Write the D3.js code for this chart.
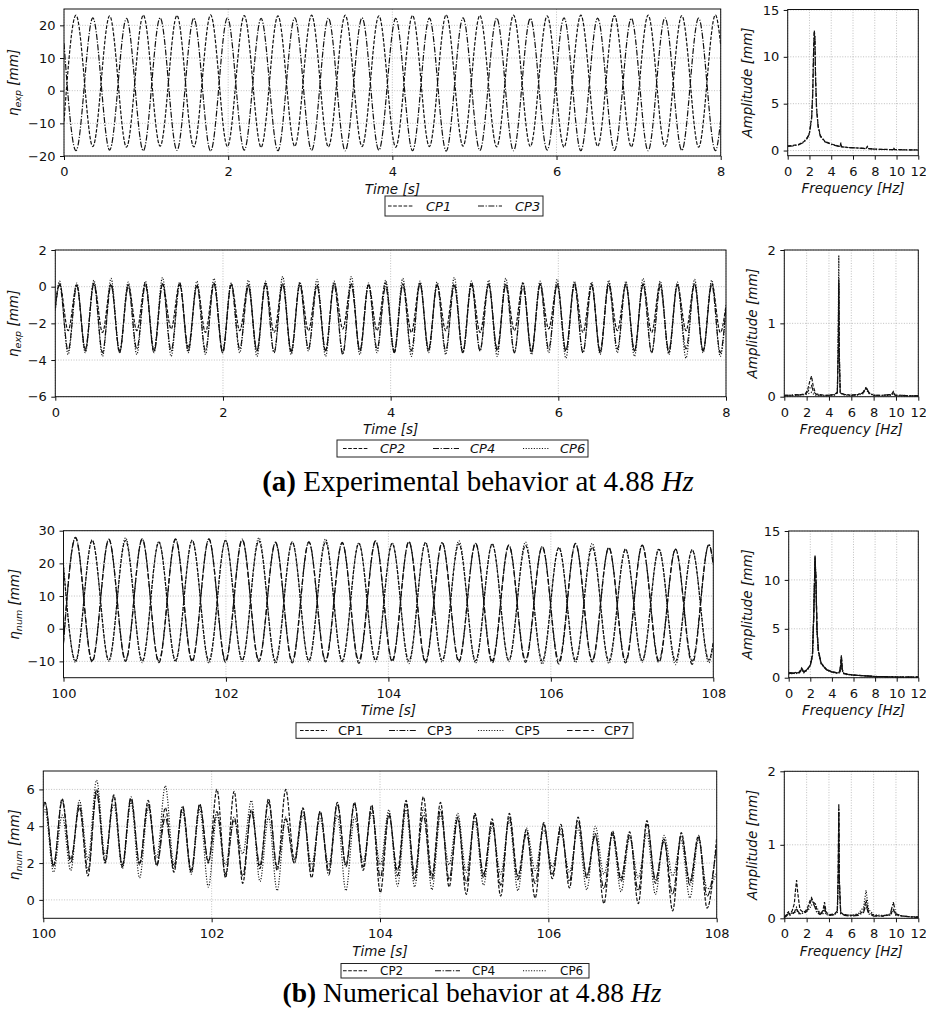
<!DOCTYPE html>
<html><head><meta charset="utf-8">
<script src="https://cdn.jsdelivr.net/npm/d3@7"></script>
<style>
body{margin:0;background:#fff;}
svg{display:block;font-family:"DejaVu Sans",sans-serif;}
</style></head><body>
<script>
// ---------- tick values ----------
const timeTicksExp = [0, 2, 4, 6, 8];
const timeTicksNum = [100, 102, 104, 106, 108];
const freqTicks = [0, 2, 4, 6, 8, 10, 12];
const yTicksExpA = [-20, -10, 0, 10, 20];
const yTicksExpB = [-6, -4, -2, 0, 2];
const yTicksNumA = [-10, 0, 10, 20, 30];
const yTicksNumB = [0, 2, 4, 6];
const ampTicksA = [0, 5, 10, 15];
const ampTicksB = [0, 1, 2];

// ---------- (a) experiment: CP1 / CP3, extrema of the free-surface elevation ----------
const tExpA = [0, 0.146,0.351,0.556,0.761,0.966,1.171,1.376,1.581,1.786,1.991,2.196,2.401,2.606,2.811,3.016,3.221,3.426,3.631,3.836,4.041,4.246,4.451,4.656,4.861,5.066,5.271,5.476,5.681,5.886,6.091,6.296,6.501,6.706,6.911,7.116,7.321,7.526,7.731,7.936, 8];
const cp1Exp = [-9.4, 23.1,-17.1, 22.9,-17.3, 23.1,-17.0, 23.0,-17.2, 23.2,-17.1, 23.0,-17.3, 22.9,-17.0, 23.1,-17.2, 23.1,-17.1, 22.9,-17.3, 23.0,-17.1, 23.2,-17.0, 23.0,-17.2, 23.1,-17.1, 22.9,-17.3, 23.1,-17.0, 23.0,-17.2, 23.1,-17.1, 23.0,-17.3, 23.2, 14.0];
const cp3Exp = [14.5, -18.4,22.3, -18.2,22.1, -18.4,22.3, -18.3,22.2, -18.5,22.3, -18.2,22.1, -18.4,22.3, -18.3,22.2, -18.4,22.3, -18.2,22.1, -18.4,22.2, -18.5,22.3, -18.3,22.2, -18.4,22.1, -18.2,22.3, -18.4,22.2, -18.3,22.1, -18.4,22.3, -18.3,22.2, -18.4, -9.0];

// ---------- (a) experiment: CP2 / CP4 / CP6 ----------
const tExpB = [0, 0.051,0.153,0.256,0.358,0.460,0.563,0.665,0.767,0.870,0.972,1.075,1.177,1.279,1.382,1.484,1.586,1.689,1.791,1.893,1.996,2.098,2.200,2.303,2.405,2.507,2.610,2.712,2.814,2.917,3.019,3.122,3.224,3.326,3.429,3.531,3.633,3.736,3.838,3.940,4.043,4.145,4.247,4.350,4.452,4.554,4.657,4.759,4.861,4.964,5.066,5.169,5.271,5.373,5.476,5.578,5.680,5.783,5.885,5.987,6.090,6.192,6.294,6.397,6.499,6.601,6.704,6.806,6.908,7.011,7.113,7.216,7.318,7.420,7.523,7.625,7.727,7.830,7.932, 8];
const cp2Exp = [-1.0, 0.15,-2.4, 0.1,-3.5, 0.2,-2.5, 0.15,-3.6, 0.1,-2.4, 0.2,-3.5, 0.15,-2.3, 0.2,-3.5, 0.1,-2.5, 0.2,-3.6, 0.15,-2.4, 0.1,-3.5, 0.2,-2.5, 0.15,-3.6, 0.2,-2.4, 0.1,-3.5, 0.2,-2.3, 0.15,-3.5, 0.1,-2.4, 0.2,-3.6, 0.15,-2.5, 0.2,-3.5, 0.1,-2.4, 0.15,-3.6, 0.2,-2.5, 0.1,-3.5, 0.15,-2.4, 0.2,-3.6, 0.15,-2.3, 0.1,-3.5, 0.2,-2.5, 0.15,-3.6, 0.2,-2.4, 0.1,-3.5, 0.15,-2.5, 0.2,-3.6, 0.1,-2.4, 0.15,-3.5, 0.2,-2.5, -1.0];
const cp4Exp = [-1.2, 0.1,-3.5, 0.05,-3.4, 0.15,-3.6, 0.1,-3.5, 0.0,-3.4, 0.1,-3.6, 0.15,-3.5, 0.1,-3.3, 0.05,-3.5, 0.15,-3.6, 0.1,-3.4, 0.0,-3.5, 0.1,-3.6, 0.15,-3.5, 0.1,-3.4, 0.05,-3.5, 0.1,-3.7, 0.15,-3.5, 0.1,-3.4, 0.0,-3.6, 0.1,-3.5, 0.15,-3.4, 0.1,-3.5, 0.05,-3.6, 0.1,-3.5, 0.15,-3.4, 0.1,-3.6, 0.0,-3.5, 0.1,-3.4, 0.15,-3.5, 0.1,-3.6, 0.05,-3.5, 0.1,-3.4, 0.15,-3.5, 0.1,-3.6, 0.0,-3.5, 0.1,-3.4, 0.15,-3.5, 0.1,-3.6, -1.1];
const cp6Exp = [-1.3, 0.3,-3.7, 0.2,-3.6, 0.35,-3.8, 0.45,-3.6, 0.25,-3.7, 0.3,-3.5, 0.5,-3.8, 0.25,-3.6, 0.3,-3.7, 0.45,-3.5, 0.2,-3.6, 0.35,-3.8, 0.3,-3.6, 0.55,-3.7, 0.25,-3.5, 0.4,-3.8, 0.3,-3.6, 0.55,-3.7, 0.2,-3.6, 0.35,-3.5, 0.45,-3.8, 0.3,-3.6, 0.25,-3.7, 0.5,-3.6, 0.3,-3.5, 0.35,-3.8, 0.45,-3.6, 0.25,-3.7, 0.3,-3.6, 0.4,-3.9, 0.3,-3.6, 0.25,-3.7, 0.35,-3.6, 0.3,-3.8, 0.45,-3.6, 0.3,-3.7, 0.25,-3.9, 0.4,-3.6, 0.35,-3.8, -1.2];

// ---------- (b) numerical: CP1 / CP3 / CP5 / CP7 ----------
const tNumA = [100, 100.148,100.353,100.558,100.764,100.969,101.174,101.379,101.584,101.790,101.995,102.200,102.405,102.610,102.816,103.021,103.226,103.431,103.636,103.842,104.047,104.252,104.457,104.662,104.868,105.073,105.278,105.483,105.688,105.894,106.099,106.304,106.509,106.714,106.920,107.125,107.330,107.535,107.740,107.946, 108];
const cp1Num = [19, -9.8,27.0, -9.6,27.0, -9.9,26.5, -9.7,27.0, -9.8,27.0, -9.6,26.9, -9.9,26.5, -9.7,26.6, -9.8,26.1, -9.6,26.1, -9.9,26.3, -9.7,26.0, -9.8,25.9, -9.6,25.5, -9.9,24.8, -9.7,24.9, -9.8,24.3, -9.7,24.3, -9.9,24.1, -9.6, -4];
const cp3Num = [-4, 28.0,-9.8, 27.4,-9.6, 27.4,-9.9, 27.5,-9.7, 27.4,-9.8, 27.4,-9.6, 26.3,-9.9, 26.6,-9.7, 26.4,-9.8, 26.9,-9.6, 26.6,-9.9, 26.4,-9.7, 26.1,-9.8, 25.6,-9.6, 25.1,-9.9, 26.1,-9.7, 24.8,-9.8, 25.6,-9.7, 24.3,-9.9, 25.8, 20];
const cp5Num = [19.5, -10.3,27.2, -10.0,27.8, -10.4,26.6, -10.1,27.1, -10.5,27.1, -10.0,27.8, -10.6,26.6, -10.2,27.4, -10.3,26.2, -10.1,26.2, -10.7,26.4, -10.2,26.9, -10.5,26.0, -10.1,26.5, -10.8,24.9, -10.3,26.1, -10.6,24.4, -10.2,24.4, -11.0,24.2, -10.4, -4.5];
const cp7Num = [-4.5, 27.8,-10.2, 27.3,-10.0, 27.5,-10.4, 27.3,-10.1, 27.5,-10.3, 27.2,-10.0, 26.5,-10.5, 26.5,-10.2, 26.3,-10.6, 26.8,-10.1, 26.7,-10.4, 26.3,-10.2, 26.2,-10.5, 25.5,-10.3, 25.2,-10.8, 26.0,-10.2, 24.9,-10.5, 25.5,-10.4, 24.4,-10.9, 25.7, 19.5];

// ---------- (b) numerical: CP2 / CP4 / CP6 ----------
const tNumB = [100, 100.020,100.122,100.224,100.326,100.429,100.531,100.633,100.735,100.837,100.939,101.042,101.144,101.246,101.348,101.450,101.552,101.654,101.757,101.859,101.961,102.063,102.165,102.267,102.369,102.472,102.574,102.676,102.778,102.880,102.982,103.085,103.187,103.289,103.391,103.493,103.595,103.697,103.800,103.902,104.004,104.106,104.208,104.310,104.412,104.515,104.617,104.719,104.821,104.923,105.025,105.128,105.230,105.332,105.434,105.536,105.638,105.740,105.843,105.945,106.047,106.149,106.251,106.353,106.456,106.558,106.660,106.762,106.864,106.966,107.068,107.171,107.273,107.375,107.477,107.579,107.681,107.784,107.886, 108];
const cp2Num = [5.0, 5.3,1.8, 5.5,2.2, 5.0,1.3, 6.0,2.0, 5.7,1.8, 5.5,1.9, 5.4,1.9, 5.0,1.5, 5.0,1.5, 5.2,2.0, 6.0,1.2, 5.9,0.9, 4.9,1.7, 5.5,1.6, 6.0,2.2, 5.0,1.2, 4.8,1.6, 5.3,1.9, 5.3,1.6, 5.15,0.4, 4.6,1.6, 5.4,1.1, 5.6,1.3, 5.3,0.7, 4.5,0.3, 4.7,1.2, 4.4,0.2, 4.7,1.3, 3.8,0.1, 4.2,1.15, 4.1,0.65, 4.5,1.3, 3.6,-0.2, 3.75,1.2, 3.7,-0.2, 4.3,0.9, 3.3,-0.6, 3.65,1.0, 3.5,-0.45, 3.4];
const cp4Num = [5.1, 5.3,1.9, 5.4,2.0, 5.2,1.6, 5.8,2.1, 5.6,1.9, 5.6,2.0, 5.2,1.85, 4.5,1.7, 5.1,1.6, 5.2,2.1, 4.8,1.4, 4.5,1.3, 4.8,1.9, 5.3,1.8, 4.4,2.0, 4.9,1.5, 4.8,1.35, 5.2,1.8, 5.2,1.8, 5.0,1.2, 4.7,1.3, 5.2,1.4, 4.6,1.1, 4.9,1.1, 4.4,0.9, 4.6,1.4, 4.2,0.8, 4.5,1.1, 3.6,0.9, 4.1,1.4, 3.9,1.0, 4.3,1.2, 3.5,0.6, 3.6,1.0, 3.5,0.5, 4.1,1.1, 3.2,0.3, 3.5,0.8, 3.4,0.2, 3.0];
const cp6Num = [4.6, 4.9,1.5, 4.6,1.6, 5.4,2.2, 6.5,2.4, 5.2,1.7, 5.3,1.2, 5.0,2.3, 6.2,1.9, 4.8,1.4, 4.9,0.7, 4.6,1.9, 4.3,2.5, 5.4,1.0, 4.5,0.5, 4.5,2.0, 4.6,1.9, 4.4,1.9, 4.6,0.5, 4.5,2.1, 4.7,1.9, 4.9,0.75, 4.9,0.7, 5.0,0.55, 4.6,1.9, 4.7,1.5, 4.3,0.8, 4.0,1.4, 4.3,0.5, 3.9,1.6, 3.8,1.8, 3.6,1.5, 3.9,0.55, 4.0,1.4, 3.5,0.45, 3.4,1.2, 3.6,0.3, 3.5,1.3, 3.2,0.1, 3.3,0.6, 1.5];

// ---------- amplitude spectra ----------
const freqS1 = [0,0.5,1,1.5,1.8,2,2.2,2.3,2.38,2.44,2.5,2.56,2.65,2.8,3,3.4,4,4.6,4.83,4.88,4.93,5.5,6.5,7.2,7.32,7.45,8,9,9.7,9.76,9.82,11,12];
const spCP1Exp = [0.5,0.55,0.65,0.95,1.4,1.9,3.6,6.2,10.8,12.8,12.2,8.0,4.6,2.6,1.6,1.0,0.7,0.5,0.45,0.85,0.42,0.33,0.27,0.22,0.45,0.2,0.15,0.12,0.1,0.22,0.1,0.08,0.06];
const spCP3Exp = [0.45,0.5,0.6,0.9,1.3,1.8,3.4,6.0,10.5,12.6,12.0,7.6,4.4,2.5,1.5,0.95,0.65,0.48,0.42,0.75,0.4,0.32,0.26,0.2,0.38,0.2,0.14,0.11,0.1,0.18,0.09,0.07,0.05];

const freqS2 = [0,0.5,1,1.5,1.9,2.1,2.3,2.44,2.58,2.8,3.2,3.6,4,4.5,4.75,4.83,4.88,4.93,5.01,5.4,6,6.6,7.05,7.32,7.6,8,8.8,9.6,9.76,9.92,10.5,11.3,12];
const spCP2Exp = [0.02,0.02,0.02,0.03,0.04,0.1,0.22,0.28,0.15,0.04,0.03,0.02,0.02,0.03,0.06,0.6,1.55,0.5,0.05,0.03,0.02,0.03,0.06,0.12,0.05,0.02,0.02,0.03,0.07,0.02,0.02,0.01,0.01];
const spCP4Exp = [0.02,0.02,0.03,0.02,0.04,0.07,0.12,0.15,0.08,0.03,0.02,0.02,0.02,0.03,0.05,0.7,1.6,0.55,0.05,0.03,0.02,0.03,0.05,0.13,0.05,0.02,0.02,0.03,0.06,0.02,0.02,0.01,0.01];
const spCP6Exp = [0.01,0.01,0.02,0.02,0.03,0.04,0.05,0.06,0.04,0.02,0.02,0.01,0.02,0.02,0.06,0.9,1.93,0.6,0.05,0.02,0.02,0.02,0.04,0.1,0.04,0.02,0.01,0.02,0.05,0.02,0.01,0.01,0.01];

const freqS3 = [0,0.2,0.4,0.6,0.8,1.0,1.2,1.4,1.7,2.0,2.2,2.32,2.44,2.52,2.62,2.75,3.0,3.5,4.0,4.5,4.72,4.82,4.88,4.95,5.1,5.5,6,7,8,9,10,11,12];
const spCP1Num = [0.45,0.5,0.4,0.55,0.45,0.6,1.0,0.6,0.8,1.3,2.4,6.5,12.3,10.2,5.0,2.8,1.5,0.85,0.6,0.5,0.6,1.4,2.3,0.9,0.45,0.35,0.28,0.2,0.12,0.1,0.07,0.06,0.05];
const spCP3Num = [0.5,0.45,0.5,0.4,0.55,0.5,0.9,0.55,0.85,1.25,2.2,6.2,12.5,10.0,4.8,2.7,1.45,0.8,0.58,0.48,0.55,1.2,2.1,0.8,0.42,0.33,0.26,0.19,0.12,0.09,0.07,0.05,0.05];
const spCP5Num = [0.4,0.45,0.35,0.5,0.4,0.55,0.8,0.5,0.75,1.2,2.3,6.8,12.0,9.6,4.6,2.6,1.4,0.8,0.55,0.45,0.5,1.1,1.9,0.7,0.4,0.3,0.25,0.2,0.13,0.1,0.08,0.06,0.05];
const spCP7Num = [0.5,0.5,0.45,0.45,0.5,0.55,0.95,0.6,0.8,1.3,2.3,6.4,12.4,10.1,4.9,2.75,1.5,0.82,0.6,0.5,0.58,1.3,2.2,0.85,0.44,0.34,0.27,0.2,0.12,0.1,0.07,0.06,0.05];

const freqS4 = [0,0.2,0.35,0.5,0.7,0.9,1.0,1.1,1.2,1.4,1.7,1.9,2.1,2.3,2.44,2.6,2.75,2.9,3.2,3.45,3.6,3.75,4.1,4.5,4.75,4.83,4.88,4.93,5.05,5.4,6,6.6,7.1,7.32,7.55,8,8.8,9.5,9.76,10.0,10.6,11.3,12];
const spCP2Num = [0.02,0.05,0.08,0.06,0.1,0.2,0.38,0.52,0.35,0.12,0.08,0.1,0.15,0.24,0.28,0.22,0.2,0.12,0.06,0.1,0.22,0.08,0.05,0.06,0.1,0.6,1.52,0.5,0.08,0.05,0.04,0.05,0.1,0.25,0.08,0.04,0.03,0.05,0.12,0.05,0.03,0.02,0.02];
const spCP4Num = [0.01,0.03,0.06,0.04,0.07,0.08,0.12,0.15,0.1,0.06,0.07,0.08,0.12,0.2,0.26,0.2,0.15,0.08,0.05,0.08,0.15,0.06,0.04,0.05,0.1,0.7,1.55,0.55,0.07,0.04,0.03,0.04,0.08,0.18,0.06,0.03,0.03,0.06,0.22,0.06,0.03,0.02,0.01];
const spCP6Num = [0.01,0.04,0.1,0.05,0.08,0.06,0.1,0.12,0.08,0.05,0.1,0.08,0.1,0.14,0.18,0.2,0.21,0.15,0.07,0.06,0.1,0.05,0.04,0.05,0.08,0.5,1.45,0.45,0.06,0.05,0.04,0.06,0.15,0.38,0.12,0.05,0.04,0.04,0.1,0.04,0.03,0.02,0.02];

// ---------- drawing ----------
const DASH = {dashed: "3.6,1.6", dashdot: "6,1.6,1.2,1.6", dotted: "1.1,1.6", longdash: "5.5,2.6"};
const W = 926, H = 1017;
const svg = d3.select("body").append("svg").attr("width", W).attr("height", H);
const defs = svg.append("defs");
const fmt = d => d < 0 ? "\u2212" + Math.abs(d) : String(d);
const monotone = d3.curveMonotoneX, linear = d3.curveLinear;

function panel(o) {
  const x = d3.scaleLinear().domain(o.xd).range([o.l, o.r]);
  const y = d3.scaleLinear().domain(o.yd).range([o.b, o.t]);
  const g = svg.append("g");
  defs.append("clipPath").attr("id", "clip-" + o.id).append("rect")
    .attr("x", o.l).attr("y", o.t).attr("width", o.r - o.l).attr("height", o.b - o.t);

  // dotted grid
  const grid = g.append("g").attr("stroke", "#b0b0b0").attr("stroke-width", 0.8).attr("stroke-dasharray", "1,1.6");
  grid.selectAll(".gx").data(o.xt).join("line").attr("class", "gx")
    .attr("x1", d => x(d)).attr("x2", d => x(d)).attr("y1", o.t).attr("y2", o.b);
  grid.selectAll(".gy").data(o.yt).join("line").attr("class", "gy")
    .attr("y1", d => y(d)).attr("y2", d => y(d)).attr("x1", o.l).attr("x2", o.r);

  // series
  const line = d3.line().x(d => x(d[0])).y(d => y(d[1])).curve(o.curve);
  const lines = g.append("g").attr("clip-path", `url(#clip-${o.id})`);
  o.series.forEach(s => {
    lines.append("path").attr("d", line(d3.zip(s.x, s.y)))
      .attr("fill", "none").attr("stroke", "#111").attr("stroke-width", 1.2)
      .attr("stroke-dasharray", s.dash);
  });

  // frame
  g.append("rect").attr("x", o.l).attr("y", o.t).attr("width", o.r - o.l).attr("height", o.b - o.t)
    .attr("fill", "none").attr("stroke", "#111").attr("stroke-width", 1);

  // axes
  const ax = g.append("g").attr("transform", `translate(0,${o.b})`)
    .call(d3.axisBottom(x).tickValues(o.xt).tickFormat(fmt).tickSize(4).tickPadding(6.8).tickSizeOuter(0));
  const ay = g.append("g").attr("transform", `translate(${o.l},0)`)
    .call(d3.axisLeft(y).tickValues(o.yt).tickFormat(fmt).tickSize(4).tickPadding(4.5).tickSizeOuter(0));
  [ax, ay].forEach(a => {
    a.select(".domain").remove();
    a.attr("font-family", "'DejaVu Sans', sans-serif").attr("font-size", 13);
    a.selectAll("line").attr("stroke", "#111");
    a.selectAll("text").attr("fill", "#111");
  });

  // axis titles
  g.append("text").attr("x", (o.l + o.r) / 2).attr("y", o.b + 37.5)
    .attr("text-anchor", "middle").style("font-style", "italic").style("font-size", "13.5px")
    .attr("fill", "#111").text(o.xlab);
  const yl = g.append("text").attr("transform", `translate(${o.ylx},${(o.t + o.b) / 2}) rotate(-90)`)
    .attr("text-anchor", "middle").style("font-style", "italic").style("font-size", "13.5px").attr("fill", "#111");
  if (Array.isArray(o.ylab)) {
    yl.append("tspan").text(o.ylab[0]);
    yl.append("tspan").attr("dy", 3).style("font-size", "9.5px").text(o.ylab[1]);
    yl.append("tspan").attr("dy", -3).text(" [mm]");
  } else {
    yl.text(o.ylab);
  }
}

function legend(o) {
  const g = svg.append("g");
  g.append("rect").attr("x", o.x).attr("y", o.y).attr("width", o.w).attr("height", o.h)
    .attr("fill", "#fff").attr("stroke", "#222").attr("stroke-width", 1);
  const cy = o.y + o.h / 2;
  o.items.forEach(it => {
    g.append("line").attr("x1", it.x1).attr("x2", it.x2).attr("y1", cy).attr("y2", cy)
      .attr("stroke", "#111").attr("stroke-width", 1).attr("stroke-dasharray", it.dash);
    g.append("text").attr("x", it.tx).attr("y", cy + o.fs * 0.35).style("font-size", o.fs + "px")
      .style("font-style", o.italic ? "italic" : "normal").attr("fill", "#111").text(it.label);
  });
}

const panels = [
  {id: "p1", l: 64, r: 720.7, t: 9, b: 156, xd: [0, 8], yd: [-20, 25], xt: timeTicksExp, yt: yTicksExpA,
   xlab: "Time [s]", ylab: ["\u03b7", "exp"], ylx: 18, curve: monotone,
   series: [{x: tExpA, y: cp1Exp, dash: DASH.dashed}, {x: tExpA, y: cp3Exp, dash: DASH.dashdot}]},
  {id: "s1", l: 787.7, r: 918.3, t: 9.5, b: 155.7, xd: [0, 12], yd: [-0.55, 15.05], xt: freqTicks, yt: ampTicksA,
   xlab: "Frequency [Hz]", ylab: "Amplitude [mm]", ylx: 752, curve: linear,
   series: [{x: freqS1, y: spCP1Exp, dash: DASH.dashed}, {x: freqS1, y: spCP3Exp, dash: DASH.dashdot}]},
  {id: "p2", l: 55.3, r: 726, t: 250, b: 396.7, xd: [0, 8], yd: [-6, 2], xt: timeTicksExp, yt: yTicksExpB,
   xlab: "Time [s]", ylab: ["\u03b7", "exp"], ylx: 18, curve: monotone,
   series: [{x: tExpB, y: cp2Exp, dash: DASH.dashed}, {x: tExpB, y: cp4Exp, dash: DASH.dashdot}, {x: tExpB, y: cp6Exp, dash: DASH.dotted}]},
  {id: "s2", l: 784.3, r: 918.3, t: 250, b: 396.7, xd: [0, 12], yd: [0, 2], xt: freqTicks, yt: ampTicksB,
   xlab: "Frequency [Hz]", ylab: "Amplitude [mm]", ylx: 757, curve: linear,
   series: [{x: freqS2, y: spCP2Exp, dash: DASH.dashed}, {x: freqS2, y: spCP4Exp, dash: DASH.dashdot}, {x: freqS2, y: spCP6Exp, dash: DASH.dotted}]},
  {id: "p3", l: 63.5, r: 713.3, t: 530.7, b: 677.7, xd: [100, 108], yd: [-15, 30], xt: timeTicksNum, yt: yTicksNumA,
   xlab: "Time [s]", ylab: ["\u03b7", "num"], ylx: 19, curve: monotone,
   series: [{x: tNumA, y: cp1Num, dash: DASH.dashed}, {x: tNumA, y: cp3Num, dash: DASH.dashdot}, {x: tNumA, y: cp5Num, dash: DASH.dotted}, {x: tNumA, y: cp7Num, dash: DASH.longdash}]},
  {id: "s3", l: 788.7, r: 918.3, t: 531, b: 677.7, xd: [0, 12], yd: [0, 15], xt: freqTicks, yt: ampTicksA,
   xlab: "Frequency [Hz]", ylab: "Amplitude [mm]", ylx: 752, curve: linear,
   series: [{x: freqS3, y: spCP1Num, dash: DASH.dashed}, {x: freqS3, y: spCP3Num, dash: DASH.dashdot}, {x: freqS3, y: spCP5Num, dash: DASH.dotted}, {x: freqS3, y: spCP7Num, dash: DASH.longdash}]},
  {id: "p4", l: 43.3, r: 716.7, t: 771, b: 918.3, xd: [100, 108], yd: [-1, 7], xt: timeTicksNum, yt: yTicksNumB,
   xlab: "Time [s]", ylab: ["\u03b7", "num"], ylx: 18.5, curve: monotone,
   series: [{x: tNumB, y: cp2Num, dash: DASH.dashed}, {x: tNumB, y: cp4Num, dash: DASH.dashdot}, {x: tNumB, y: cp6Num, dash: DASH.dotted}]},
  {id: "s4", l: 784.3, r: 918.3, t: 771.3, b: 918.3, xd: [0, 12], yd: [0, 2], xt: freqTicks, yt: ampTicksB,
   xlab: "Frequency [Hz]", ylab: "Amplitude [mm]", ylx: 757, curve: linear,
   series: [{x: freqS4, y: spCP2Num, dash: DASH.dashed}, {x: freqS4, y: spCP4Num, dash: DASH.dashdot}, {x: freqS4, y: spCP6Num, dash: DASH.dotted}]}
];
panels.forEach(panel);

const legends = [
  {x: 385, y: 196, w: 158, h: 20, fs: 13, italic: true, items: [
    {x1: 388, x2: 413, tx: 426, label: "CP1", dash: DASH.dashed},
    {x1: 478, x2: 502, tx: 515, label: "CP3", dash: DASH.dashdot}]},
  {x: 337, y: 440, w: 251, h: 17, fs: 13, italic: true, items: [
    {x1: 343, x2: 368, tx: 380, label: "CP2", dash: DASH.dashed},
    {x1: 433, x2: 459, tx: 470, label: "CP4", dash: DASH.dashdot},
    {x1: 523, x2: 549, tx: 560, label: "CP6", dash: DASH.dotted}]},
  {x: 296, y: 722.7, w: 337, h: 15.6, fs: 13, italic: false, items: [
    {x1: 300, x2: 327, tx: 338, label: "CP1", dash: DASH.dashed},
    {x1: 389, x2: 416, tx: 427, label: "CP3", dash: DASH.dashdot},
    {x1: 478, x2: 505, tx: 515, label: "CP5", dash: DASH.dotted},
    {x1: 567, x2: 594, tx: 604, label: "CP7", dash: DASH.longdash}]},
  {x: 341, y: 963.5, w: 248, h: 14.5, fs: 12, italic: false, items: [
    {x1: 343, x2: 367, tx: 380, label: "CP2", dash: DASH.dashed},
    {x1: 435, x2: 460, tx: 472, label: "CP4", dash: DASH.dashdot},
    {x1: 523, x2: 547, tx: 560, label: "CP6", dash: DASH.dotted}]}
];
legends.forEach(legend);

// sub-figure captions
function caption(cx, by, fs, tag, body) {
  const t = svg.append("text").attr("x", cx).attr("y", by).attr("text-anchor", "middle")
    .style("font-family", "'Liberation Serif','Times New Roman',serif").style("font-size", fs + "px").attr("fill", "#000");
  t.append("tspan").style("font-weight", "bold").text(tag);
  t.append("tspan").text(" " + body + " ");
  t.append("tspan").style("font-style", "italic").text("Hz");
}
caption(478, 491, 29, "(a)", "Experimental behavior at 4.88");
caption(472, 1001.5, 27.5, "(b)", "Numerical behavior at 4.88");
</script>
</body></html>
